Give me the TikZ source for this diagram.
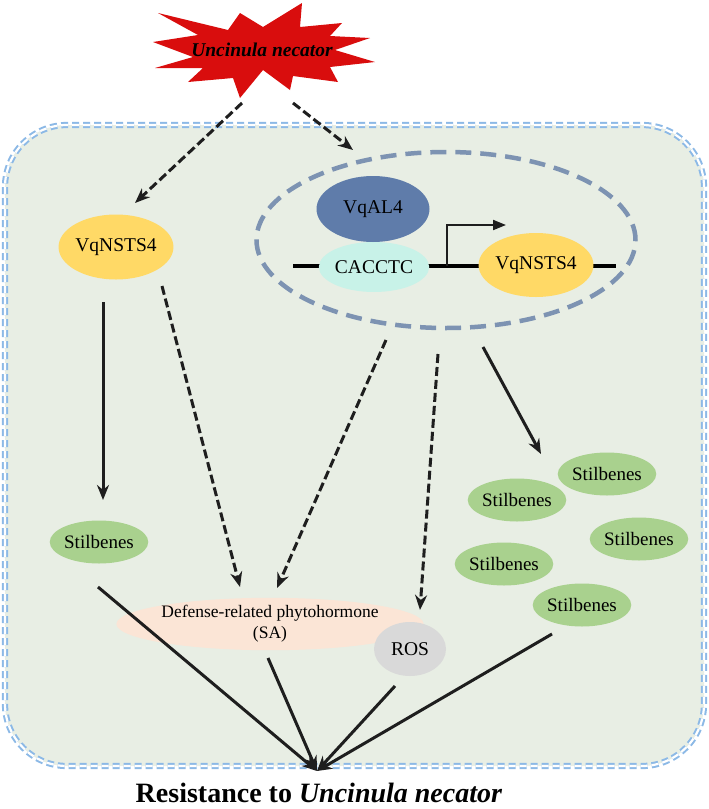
\documentclass[tikz,border=0pt]{standalone}
\usepackage{fontspec}
\setmainfont{Liberation Serif}
\usepackage{xcolor}
\usetikzlibrary{shapes.geometric, arrows.meta}

\definecolor{cellfill}{RGB}{232,238,228}
\definecolor{cellline}{RGB}{140,185,230}
\definecolor{nucline}{RGB}{125,147,178}
\definecolor{starred}{RGB}{217,13,13}
\definecolor{nstsyellow}{RGB}{255,217,102}
\definecolor{alblue}{RGB}{95,124,170}
\definecolor{boxcyan}{RGB}{200,242,232}
\definecolor{stilgreen}{RGB}{169,209,142}
\definecolor{sapink}{RGB}{251,229,214}
\definecolor{rosgray}{RGB}{217,217,217}
\definecolor{arrowgray}{RGB}{30,30,30}

\begin{document}
\begin{tikzpicture}[x=1pt, y=-1pt,
    blob/.style={ellipse, inner sep=0pt, font=\fontsize{19.5}{21}\selectfont},
    stil/.style={blob, fill=stilgreen, minimum width=96pt, minimum height=43pt,
                 font=\fontsize{19}{21}\selectfont},
    arr/.style={-{Stealth[length=15pt, width=12pt]}, line width=3pt, draw=arrowgray},
    darr/.style={arr, dash pattern=on 9pt off 4pt}]
    \useasboundingbox (0,0) rectangle (709,809);

    % Cell
    \draw[fill=cellfill, draw=cellline, line width=2pt, double=white,
          double distance=2.2pt, dash pattern=on 7pt off 4pt, rounded corners=62pt]
          (5,125) rectangle (704,766);

    % Pathogen
    \fill[starred] (158,13) -- (228,30) -- (240,13) -- (263,27) -- (302,3) -- (300,27)
        -- (342,23) -- (330,36) -- (370,38) -- (335,50) -- (375,62) -- (330,67)
        -- (338,82) -- (293,76) -- (290,90) -- (263,70) -- (240,98) -- (233,78)
        -- (188,82) -- (203,68) -- (155,68) -- (193,57) -- (153,42) -- (198,35) -- cycle;
    \node[font=\fontsize{19.5}{21}\selectfont\bfseries\itshape] (pathogen) at (262,50) {Uncinula necator};

    % Nucleus with promoter
    \node[ellipse, draw=nucline, line width=4.5pt, dash pattern=on 16pt off 9pt,
          minimum width=379pt, minimum height=176pt] (nucleus) at (446,240) {};
    \coordinate (dnaL) at (293,266);
    \coordinate (dnaR) at (616,266);
    \draw[line width=4pt, black] (dnaL) -- (dnaR);
    \node[blob, fill=boxcyan, minimum width=82pt, minimum height=50pt] (cacctc) at (374,267) {CACCTC};
    \node[blob, fill=alblue, minimum width=113pt, minimum height=66pt] (al4) at (373,209) {VqAL4};
    \node[blob, fill=nstsyellow, minimum width=112pt, minimum height=64pt] (nsts4b) at (536,265) {VqNSTS4};
    \coordinate (tss) at (447,266);
    \coordinate (tssend) at (506,225);
    \draw[-{Triangle[length=13pt, width=10pt]}, line width=2pt, arrowgray] (tss) |- (tssend);

    % Left branch
    \node[blob, fill=nstsyellow, minimum width=113pt, minimum height=65pt] (nsts4a) at (116,247) {VqNSTS4};
    \node[stil] (stilA) at (99,542) {Stilbenes};

    % Stilbenes cluster
    \node[stil] (stilB) at (607,474) {Stilbenes};
    \node[stil] (stilC) at (517,500) {Stilbenes};
    \node[stil] (stilD) at (639,539) {Stilbenes};
    \node[stil] (stilE) at (504,564) {Stilbenes};
    \node[stil] (stilF) at (582,605) {Stilbenes};

    % Hormone and ROS
    \node[blob, fill=sapink, minimum width=225pt, minimum height=52pt, align=center,
          font=\fontsize{17.5}{21}\selectfont] (sa) at (270,624) {Defense-related phytohormone\\(SA)};
    \node[blob, fill=rosgray, minimum width=72pt, minimum height=54pt] (ros) at (410,649) {ROS};

    % Result
    \node[anchor=base, font=\fontsize{28}{32}\selectfont\bfseries] (resist) at (319,802)
        {Resistance to \textit{Uncinula necator}};
    \coordinate (goal) at (317,771);

    % Arrow ends
    \coordinate (pathL) at (242,103);
    \coordinate (pathR) at (293,103);
    \coordinate (toNstsA) at (135,203);
    \coordinate (toNuc) at (353,150);
    \coordinate (nstsDown) at (103,302);
    \coordinate (toStilA) at (103,500);
    \coordinate (nstsSide) at (162,286);
    \coordinate (toSaL) at (240,587);
    \coordinate (nucSa) at (386,340);
    \coordinate (toSaR) at (277,588);
    \coordinate (nucRos) at (438,354);
    \coordinate (toRos) at (420,610);
    \coordinate (nucStil) at (483,347);
    \coordinate (toCluster) at (541,454);
    \coordinate (fromStilA) at (98,587);
    \coordinate (fromSa) at (268,658);
    \coordinate (fromRos) at (395,686);
    \coordinate (fromStilF) at (552,634);

    % Signalling
    \draw[darr] (pathL) -- (toNstsA);
    \draw[darr] (pathR) -- (toNuc);
    \draw[arr] (nstsDown) -- (toStilA);
    \draw[darr] (nstsSide) -- (toSaL);
    \draw[darr] (nucSa) -- (toSaR);
    \draw[darr] (nucRos) -- (toRos);
    \draw[arr] (nucStil) -- (toCluster);

    % Resistance
    \draw[arr] (fromStilA) -- (goal);
    \draw[arr] (fromSa) -- (goal);
    \draw[arr] (fromRos) -- (goal);
    \draw[arr] (fromStilF) -- (goal);
\end{tikzpicture}
\end{document}
